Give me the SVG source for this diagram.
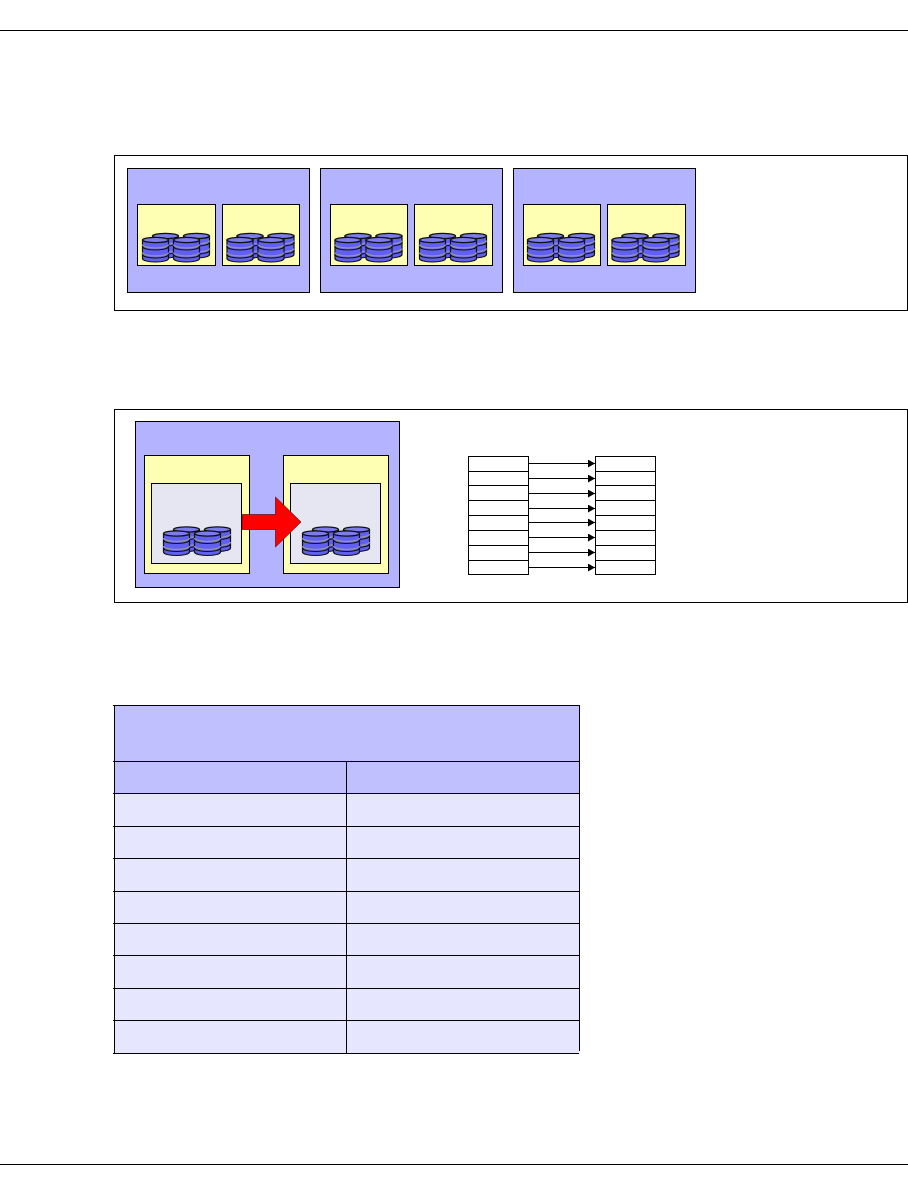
<svg xmlns="http://www.w3.org/2000/svg" xmlns:xlink="http://www.w3.org/1999/xlink" width="908" height="1196" viewBox="0 0 908 1196">
<style>
.k{stroke:#000;stroke-width:1;fill:none}
.frame{fill:#fff;stroke:#000;stroke-width:1}
.panel{fill:#b3b3ff;stroke:#000;stroke-width:1}
.yel{fill:#ffffb3;stroke:#000;stroke-width:1}
.gray{fill:#e6e6f2;stroke:#000;stroke-width:1}
.cell{fill:#fff;stroke:#000;stroke-width:1}
.hd{fill:#c0c0ff}
.row{fill:#e6e6ff}
.conn{stroke:#000;stroke-width:1;fill:none;marker-end:url(#ah)}
</style>
<defs>
<marker id="ah" markerUnits="userSpaceOnUse" markerWidth="8" markerHeight="9" refX="7" refY="4" orient="auto"><path d="M0 0L7 4L0 8Z" fill="#000"/></marker>
<g id="cyl">
<path d="M0 3V21.500C0 23.500 6 25 13 25S26 23.500 26 21.500V3Z" fill="#6060f4" stroke="#111" stroke-width="1.200"/>
<path d="M0 7.500C0 9.500 6 11 13 11S26 9.500 26 7.500M0 15.500C0 17.500 6 19 13 19S26 17.500 26 15.500" fill="none" stroke="#9090b0" stroke-width="1.400"/>
<path d="M0 9.500C0 11.500 6 13 13 13S26 11.500 26 9.500M0 17.500C0 19.500 6 21 13 21S26 19.500 26 17.500" fill="none" stroke="#111" stroke-width="1.200"/>
<ellipse cx="13" cy="3" rx="13" ry="2.600" fill="#7c7cec" stroke="#111" stroke-width="1.200"/>
</g>
<g id="discs">
<use xlink:href="#cyl" x="10" y="0"/>
<use xlink:href="#cyl" x="41" y="0"/>
<use xlink:href="#cyl" x="0" y="4"/>
<use xlink:href="#cyl" x="31" y="4"/>
</g>
</defs>
<rect width="908" height="1196" fill="#fff"/>
<g id="page-rules" class="k"><path d="M0 30.500H908M0 1164.500H908"/></g>
<g id="frame-1"><rect class="frame" x="114.500" y="155.500" width="793" height="155"/></g>
<g id="group-1">
<rect class="panel" x="127.500" y="168.500" width="182" height="124"/>
<rect class="yel" x="137.500" y="204.500" width="78" height="61"/><use xlink:href="#discs" x="142.500" y="233"/>
<rect class="yel" x="222.500" y="204.500" width="77" height="61"/><use xlink:href="#discs" x="227" y="233"/>
</g>
<g id="group-2">
<rect class="panel" x="320.500" y="168.500" width="182" height="124"/>
<rect class="yel" x="330.500" y="204.500" width="77" height="61"/><use xlink:href="#discs" x="335" y="233"/>
<rect class="yel" x="414.500" y="204.500" width="78" height="61"/><use xlink:href="#discs" x="419.500" y="233"/>
</g>
<g id="group-3">
<rect class="panel" x="513.500" y="168.500" width="182" height="124"/>
<rect class="yel" x="523.500" y="204.500" width="77" height="61"/><use xlink:href="#discs" x="527.500" y="233"/>
<rect class="yel" x="607.500" y="204.500" width="78" height="61"/><use xlink:href="#discs" x="612" y="233"/>
</g>
<g id="frame-2"><rect class="frame" x="114.500" y="409.500" width="793" height="193"/></g>
<g id="group-4">
<rect class="panel" x="135.500" y="421.500" width="264" height="166"/>
<rect class="yel" x="144.500" y="455.500" width="105" height="118"/>
<rect class="gray" x="151.500" y="483.500" width="90" height="80"/>
<use xlink:href="#discs" x="163.500" y="526.500"/>
<rect class="yel" x="283.500" y="455.500" width="105" height="118"/>
<rect class="gray" x="290.500" y="483.500" width="90" height="80"/>
<use xlink:href="#discs" x="302.500" y="526.500"/>
<path id="copy-arrow" d="M242 514.500H275.500V497L301 522L275.500 547V529.500H242Z" fill="#f00" stroke="#400" stroke-width="0.600"/>
</g>
<g id="left-cells">
<rect class="cell" x="468.500" y="456.500" width="60" height="118"/>
<path class="k" d="M468.500 471.500H528.500M468.500 485.500H528.500M468.500 500.500H528.500M468.500 515.500H528.500M468.500 530.500H528.500M468.500 545.500H528.500M468.500 560.500H528.500"/>
</g>
<g id="right-cells">
<rect class="cell" x="595.500" y="456.500" width="60" height="118"/>
<path class="k" d="M595.500 471.500H655.500M595.500 485.500H655.500M595.500 500.500H655.500M595.500 515.500H655.500M595.500 530.500H655.500M595.500 545.500H655.500M595.500 560.500H655.500"/>
</g>
<g id="connectors">
<path class="conn" d="M528.500 463.500H595"/>
<path class="conn" d="M528.500 478.500H595"/>
<path class="conn" d="M528.500 493.500H595"/>
<path class="conn" d="M528.500 508.500H595"/>
<path class="conn" d="M528.500 522.500H595"/>
<path class="conn" d="M528.500 537.500H595"/>
<path class="conn" d="M528.500 552.500H595"/>
<path class="conn" d="M528.500 567.500H595"/>
</g>
<g id="table">
<rect class="hd" x="114" y="705" width="465" height="88"/>
<rect class="row" x="114" y="793" width="465" height="260"/>
<path class="k" d="M114.500 705V1053M346.500 761V1053M579.500 705V1051M113 705.500H579M113 761.500H579M113 793.500H579M113 826.500H579M113 858.500H579M113 891.500H579M113 923.500H579M113 955.500H579M113 988.500H579M113 1020.500H579M113 1053.500H579"/>
</g>
</svg>
